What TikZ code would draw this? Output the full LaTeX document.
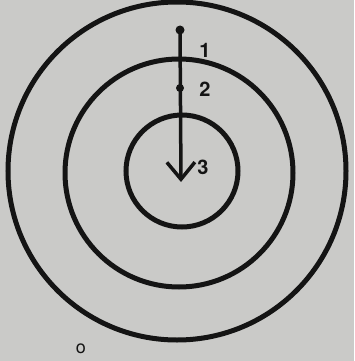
\documentclass[tikz,border=0pt]{standalone}
\usepackage{fontspec}
\setsansfont{TeX Gyre Heros}
\usetikzlibrary{arrows.meta}
\definecolor{paper}{RGB}{202,202,200}
\definecolor{ink}{RGB}{20,20,20}
\begin{document}
\begin{tikzpicture}[x=1pt,y=-1pt,
  ring/.style={draw=ink,line width=5pt},
  lbl/.style={font=\sffamily\bfseries\fontsize{20}{20}\selectfont,text=ink,inner sep=0pt},
  pt/.style={circle,fill=ink,inner sep=0pt,minimum size=9pt}]
\fill[paper] (0,0) rectangle (354,361);
\useasboundingbox (0,0) rectangle (354,361);
\draw[ring] (177,171) circle (169);
\draw[ring] (179,173) circle (114);
\draw[ring] (182,171) circle (56);
\node[pt] (p1) at (180,30) {};
\node[pt,minimum size=8pt] (p2) at (180,88) {};
\coordinate (tip) at (181,182);
\draw[ink,line width=3.5pt,-{Straight Barb[length=17pt,width=28pt,line width=3.5pt]}] (p1.center) -- (tip);
\node[lbl] (l1) at (205,50) {1};
\node[lbl] (l2) at (205,89) {2};
\node[lbl] (l3) at (203,167) {3};
\node[font=\sffamily\fontsize{18}{18}\selectfont,text=ink,inner sep=0pt] (o) at (81,349) {o};
\end{tikzpicture}
\end{document}
